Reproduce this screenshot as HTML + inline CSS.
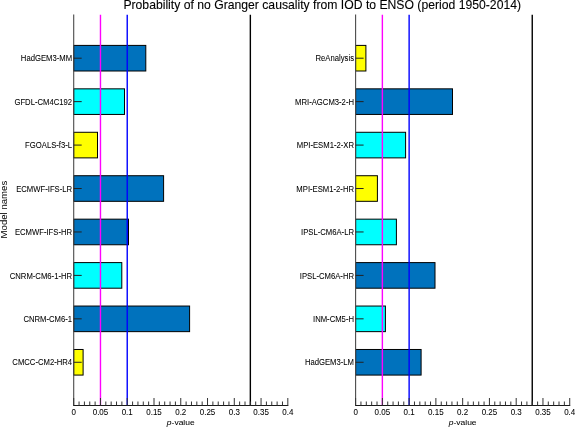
<!DOCTYPE html><html><head><meta charset="utf-8"><style>html,body{margin:0;padding:0;background:#fff;}svg{display:block;font-family:"Liberation Sans",sans-serif;will-change:transform;filter:blur(0.35px);}</style></head><body>
<svg width="575" height="427" viewBox="0 0 575 427">
<rect width="575" height="427" fill="#fff"/>
<text x="123.4" y="8.9" font-size="12.2" fill="#000" stroke="#000" stroke-width="0.1">Probability of no Granger causality from IOD to ENSO (period 1950-2014)</text>
<text transform="translate(7.1,209.6) rotate(-90)" text-anchor="middle" font-size="9.6" fill="#000">Model names</text>
<rect x="73.70" y="45.40" width="72.10" height="25.60" fill="#0072BD" stroke="#000" stroke-width="1"/>
<rect x="73.70" y="88.84" width="50.80" height="25.60" fill="#00FFFF" stroke="#000" stroke-width="1"/>
<rect x="73.70" y="132.28" width="23.80" height="25.60" fill="#FFFF00" stroke="#000" stroke-width="1"/>
<rect x="73.70" y="175.72" width="89.90" height="25.60" fill="#0072BD" stroke="#000" stroke-width="1"/>
<rect x="73.70" y="219.16" width="54.80" height="25.60" fill="#0072BD" stroke="#000" stroke-width="1"/>
<rect x="73.70" y="262.60" width="48.10" height="25.60" fill="#00FFFF" stroke="#000" stroke-width="1"/>
<rect x="73.70" y="306.04" width="115.90" height="25.60" fill="#0072BD" stroke="#000" stroke-width="1"/>
<rect x="73.70" y="349.48" width="9.40" height="25.60" fill="#FFFF00" stroke="#000" stroke-width="1"/>
<line x1="100.47" y1="14.80" x2="100.47" y2="405.50" stroke="#FF00FF" stroke-width="1.4"/>
<line x1="127.23" y1="14.80" x2="127.23" y2="405.50" stroke="#0000FF" stroke-width="1.4"/>
<line x1="250.35" y1="14.80" x2="250.35" y2="405.50" stroke="#000" stroke-width="1.4"/>
<line x1="73.70" y1="14.40" x2="73.70" y2="405.50" stroke="#4a4a4a" stroke-width="1.1"/>
<line x1="73.20" y1="405.50" x2="288.32" y2="405.50" stroke="#1a1a1a" stroke-width="1.1"/>
<line x1="73.70" y1="398.00" x2="73.70" y2="405.50" stroke="#333" stroke-width="1"/>
<text transform="translate(73.70,414.9) scale(1,1.1)" text-anchor="middle" font-size="8.0" fill="#000" stroke="#000" stroke-width="0.05">0</text>
<line x1="79.05" y1="401.50" x2="79.05" y2="405.50" stroke="#333" stroke-width="1"/>
<line x1="84.41" y1="401.50" x2="84.41" y2="405.50" stroke="#333" stroke-width="1"/>
<line x1="89.76" y1="401.50" x2="89.76" y2="405.50" stroke="#333" stroke-width="1"/>
<line x1="95.11" y1="401.50" x2="95.11" y2="405.50" stroke="#333" stroke-width="1"/>
<line x1="100.47" y1="398.00" x2="100.47" y2="405.50" stroke="#333" stroke-width="1"/>
<text transform="translate(100.47,414.9) scale(1,1.1)" text-anchor="middle" font-size="8.0" fill="#000" stroke="#000" stroke-width="0.05">0.05</text>
<line x1="105.82" y1="401.50" x2="105.82" y2="405.50" stroke="#333" stroke-width="1"/>
<line x1="111.17" y1="401.50" x2="111.17" y2="405.50" stroke="#333" stroke-width="1"/>
<line x1="116.52" y1="401.50" x2="116.52" y2="405.50" stroke="#333" stroke-width="1"/>
<line x1="121.88" y1="401.50" x2="121.88" y2="405.50" stroke="#333" stroke-width="1"/>
<line x1="127.23" y1="398.00" x2="127.23" y2="405.50" stroke="#333" stroke-width="1"/>
<text transform="translate(127.23,414.9) scale(1,1.1)" text-anchor="middle" font-size="8.0" fill="#000" stroke="#000" stroke-width="0.05">0.1</text>
<line x1="132.58" y1="401.50" x2="132.58" y2="405.50" stroke="#333" stroke-width="1"/>
<line x1="137.94" y1="401.50" x2="137.94" y2="405.50" stroke="#333" stroke-width="1"/>
<line x1="143.29" y1="401.50" x2="143.29" y2="405.50" stroke="#333" stroke-width="1"/>
<line x1="148.64" y1="401.50" x2="148.64" y2="405.50" stroke="#333" stroke-width="1"/>
<line x1="154.00" y1="398.00" x2="154.00" y2="405.50" stroke="#333" stroke-width="1"/>
<text transform="translate(154.00,414.9) scale(1,1.1)" text-anchor="middle" font-size="8.0" fill="#000" stroke="#000" stroke-width="0.05">0.15</text>
<line x1="159.35" y1="401.50" x2="159.35" y2="405.50" stroke="#333" stroke-width="1"/>
<line x1="164.70" y1="401.50" x2="164.70" y2="405.50" stroke="#333" stroke-width="1"/>
<line x1="170.05" y1="401.50" x2="170.05" y2="405.50" stroke="#333" stroke-width="1"/>
<line x1="175.41" y1="401.50" x2="175.41" y2="405.50" stroke="#333" stroke-width="1"/>
<line x1="180.76" y1="398.00" x2="180.76" y2="405.50" stroke="#333" stroke-width="1"/>
<text transform="translate(180.76,414.9) scale(1,1.1)" text-anchor="middle" font-size="8.0" fill="#000" stroke="#000" stroke-width="0.05">0.2</text>
<line x1="186.11" y1="401.50" x2="186.11" y2="405.50" stroke="#333" stroke-width="1"/>
<line x1="191.47" y1="401.50" x2="191.47" y2="405.50" stroke="#333" stroke-width="1"/>
<line x1="196.82" y1="401.50" x2="196.82" y2="405.50" stroke="#333" stroke-width="1"/>
<line x1="202.17" y1="401.50" x2="202.17" y2="405.50" stroke="#333" stroke-width="1"/>
<line x1="207.52" y1="398.00" x2="207.52" y2="405.50" stroke="#333" stroke-width="1"/>
<text transform="translate(207.52,414.9) scale(1,1.1)" text-anchor="middle" font-size="8.0" fill="#000" stroke="#000" stroke-width="0.05">0.25</text>
<line x1="212.88" y1="401.50" x2="212.88" y2="405.50" stroke="#333" stroke-width="1"/>
<line x1="218.23" y1="401.50" x2="218.23" y2="405.50" stroke="#333" stroke-width="1"/>
<line x1="223.58" y1="401.50" x2="223.58" y2="405.50" stroke="#333" stroke-width="1"/>
<line x1="228.94" y1="401.50" x2="228.94" y2="405.50" stroke="#333" stroke-width="1"/>
<line x1="234.29" y1="398.00" x2="234.29" y2="405.50" stroke="#333" stroke-width="1"/>
<text transform="translate(234.29,414.9) scale(1,1.1)" text-anchor="middle" font-size="8.0" fill="#000" stroke="#000" stroke-width="0.05">0.3</text>
<line x1="239.64" y1="401.50" x2="239.64" y2="405.50" stroke="#333" stroke-width="1"/>
<line x1="245.00" y1="401.50" x2="245.00" y2="405.50" stroke="#333" stroke-width="1"/>
<line x1="250.35" y1="401.50" x2="250.35" y2="405.50" stroke="#333" stroke-width="1"/>
<line x1="255.70" y1="401.50" x2="255.70" y2="405.50" stroke="#333" stroke-width="1"/>
<line x1="261.06" y1="398.00" x2="261.06" y2="405.50" stroke="#333" stroke-width="1"/>
<text transform="translate(261.06,414.9) scale(1,1.1)" text-anchor="middle" font-size="8.0" fill="#000" stroke="#000" stroke-width="0.05">0.35</text>
<line x1="266.41" y1="401.50" x2="266.41" y2="405.50" stroke="#333" stroke-width="1"/>
<line x1="271.76" y1="401.50" x2="271.76" y2="405.50" stroke="#333" stroke-width="1"/>
<line x1="277.11" y1="401.50" x2="277.11" y2="405.50" stroke="#333" stroke-width="1"/>
<line x1="282.47" y1="401.50" x2="282.47" y2="405.50" stroke="#333" stroke-width="1"/>
<line x1="287.82" y1="398.00" x2="287.82" y2="405.50" stroke="#333" stroke-width="1"/>
<text transform="translate(287.82,414.9) scale(1,1.1)" text-anchor="middle" font-size="8.0" fill="#000" stroke="#000" stroke-width="0.05">0.4</text>
<line x1="73.70" y1="58.20" x2="81.70" y2="58.20" stroke="#222" stroke-width="1"/>
<text transform="translate(72.10,61.40) scale(1,1.1)" text-anchor="end" font-size="7.7" fill="#000" stroke="#000" stroke-width="0.05">HadGEM3-MM</text>
<line x1="73.70" y1="101.64" x2="81.70" y2="101.64" stroke="#222" stroke-width="1"/>
<text transform="translate(72.10,104.84) scale(1,1.1)" text-anchor="end" font-size="7.7" fill="#000" stroke="#000" stroke-width="0.05">GFDL-CM4C192</text>
<line x1="73.70" y1="145.08" x2="81.70" y2="145.08" stroke="#222" stroke-width="1"/>
<text transform="translate(72.10,148.28) scale(1,1.1)" text-anchor="end" font-size="7.7" fill="#000" stroke="#000" stroke-width="0.05">FGOALS-f3-L</text>
<line x1="73.70" y1="188.52" x2="81.70" y2="188.52" stroke="#222" stroke-width="1"/>
<text transform="translate(72.10,191.72) scale(1,1.1)" text-anchor="end" font-size="7.7" fill="#000" stroke="#000" stroke-width="0.05">ECMWF-IFS-LR</text>
<line x1="73.70" y1="231.96" x2="81.70" y2="231.96" stroke="#222" stroke-width="1"/>
<text transform="translate(72.10,235.16) scale(1,1.1)" text-anchor="end" font-size="7.7" fill="#000" stroke="#000" stroke-width="0.05">ECMWF-IFS-HR</text>
<line x1="73.70" y1="275.40" x2="81.70" y2="275.40" stroke="#222" stroke-width="1"/>
<text transform="translate(72.10,278.60) scale(1,1.1)" text-anchor="end" font-size="7.7" fill="#000" stroke="#000" stroke-width="0.05">CNRM-CM6-1-HR</text>
<line x1="73.70" y1="318.84" x2="81.70" y2="318.84" stroke="#222" stroke-width="1"/>
<text transform="translate(72.10,322.04) scale(1,1.1)" text-anchor="end" font-size="7.7" fill="#000" stroke="#000" stroke-width="0.05">CNRM-CM6-1</text>
<line x1="73.70" y1="362.28" x2="81.70" y2="362.28" stroke="#222" stroke-width="1"/>
<text transform="translate(72.10,365.48) scale(1,1.1)" text-anchor="end" font-size="7.7" fill="#000" stroke="#000" stroke-width="0.05">CMCC-CM2-HR4</text>
<text transform="translate(180.76,425.2) scale(1,0.92)" text-anchor="middle" font-size="8.5" fill="#000" stroke="#000" stroke-width="0.05"><tspan font-style="italic">p</tspan>-value</text>
<rect x="355.60" y="45.40" width="10.30" height="25.60" fill="#FFFF00" stroke="#000" stroke-width="1"/>
<rect x="355.60" y="88.84" width="96.90" height="25.60" fill="#0072BD" stroke="#000" stroke-width="1"/>
<rect x="355.60" y="132.28" width="50.00" height="25.60" fill="#00FFFF" stroke="#000" stroke-width="1"/>
<rect x="355.60" y="175.72" width="21.80" height="25.60" fill="#FFFF00" stroke="#000" stroke-width="1"/>
<rect x="355.60" y="219.16" width="40.80" height="25.60" fill="#00FFFF" stroke="#000" stroke-width="1"/>
<rect x="355.60" y="262.60" width="79.40" height="25.60" fill="#0072BD" stroke="#000" stroke-width="1"/>
<rect x="355.60" y="306.04" width="29.80" height="25.60" fill="#00FFFF" stroke="#000" stroke-width="1"/>
<rect x="355.60" y="349.48" width="65.50" height="25.60" fill="#0072BD" stroke="#000" stroke-width="1"/>
<line x1="382.37" y1="14.80" x2="382.37" y2="405.50" stroke="#FF00FF" stroke-width="1.4"/>
<line x1="409.13" y1="14.80" x2="409.13" y2="405.50" stroke="#0000FF" stroke-width="1.4"/>
<line x1="532.25" y1="14.80" x2="532.25" y2="405.50" stroke="#000" stroke-width="1.4"/>
<line x1="355.60" y1="14.40" x2="355.60" y2="405.50" stroke="#4a4a4a" stroke-width="1.1"/>
<line x1="355.10" y1="405.50" x2="570.22" y2="405.50" stroke="#1a1a1a" stroke-width="1.1"/>
<line x1="355.60" y1="398.00" x2="355.60" y2="405.50" stroke="#333" stroke-width="1"/>
<text transform="translate(355.60,414.9) scale(1,1.1)" text-anchor="middle" font-size="8.0" fill="#000" stroke="#000" stroke-width="0.05">0</text>
<line x1="360.95" y1="401.50" x2="360.95" y2="405.50" stroke="#333" stroke-width="1"/>
<line x1="366.31" y1="401.50" x2="366.31" y2="405.50" stroke="#333" stroke-width="1"/>
<line x1="371.66" y1="401.50" x2="371.66" y2="405.50" stroke="#333" stroke-width="1"/>
<line x1="377.01" y1="401.50" x2="377.01" y2="405.50" stroke="#333" stroke-width="1"/>
<line x1="382.37" y1="398.00" x2="382.37" y2="405.50" stroke="#333" stroke-width="1"/>
<text transform="translate(382.37,414.9) scale(1,1.1)" text-anchor="middle" font-size="8.0" fill="#000" stroke="#000" stroke-width="0.05">0.05</text>
<line x1="387.72" y1="401.50" x2="387.72" y2="405.50" stroke="#333" stroke-width="1"/>
<line x1="393.07" y1="401.50" x2="393.07" y2="405.50" stroke="#333" stroke-width="1"/>
<line x1="398.42" y1="401.50" x2="398.42" y2="405.50" stroke="#333" stroke-width="1"/>
<line x1="403.78" y1="401.50" x2="403.78" y2="405.50" stroke="#333" stroke-width="1"/>
<line x1="409.13" y1="398.00" x2="409.13" y2="405.50" stroke="#333" stroke-width="1"/>
<text transform="translate(409.13,414.9) scale(1,1.1)" text-anchor="middle" font-size="8.0" fill="#000" stroke="#000" stroke-width="0.05">0.1</text>
<line x1="414.48" y1="401.50" x2="414.48" y2="405.50" stroke="#333" stroke-width="1"/>
<line x1="419.84" y1="401.50" x2="419.84" y2="405.50" stroke="#333" stroke-width="1"/>
<line x1="425.19" y1="401.50" x2="425.19" y2="405.50" stroke="#333" stroke-width="1"/>
<line x1="430.54" y1="401.50" x2="430.54" y2="405.50" stroke="#333" stroke-width="1"/>
<line x1="435.89" y1="398.00" x2="435.89" y2="405.50" stroke="#333" stroke-width="1"/>
<text transform="translate(435.89,414.9) scale(1,1.1)" text-anchor="middle" font-size="8.0" fill="#000" stroke="#000" stroke-width="0.05">0.15</text>
<line x1="441.25" y1="401.50" x2="441.25" y2="405.50" stroke="#333" stroke-width="1"/>
<line x1="446.60" y1="401.50" x2="446.60" y2="405.50" stroke="#333" stroke-width="1"/>
<line x1="451.95" y1="401.50" x2="451.95" y2="405.50" stroke="#333" stroke-width="1"/>
<line x1="457.31" y1="401.50" x2="457.31" y2="405.50" stroke="#333" stroke-width="1"/>
<line x1="462.66" y1="398.00" x2="462.66" y2="405.50" stroke="#333" stroke-width="1"/>
<text transform="translate(462.66,414.9) scale(1,1.1)" text-anchor="middle" font-size="8.0" fill="#000" stroke="#000" stroke-width="0.05">0.2</text>
<line x1="468.01" y1="401.50" x2="468.01" y2="405.50" stroke="#333" stroke-width="1"/>
<line x1="473.37" y1="401.50" x2="473.37" y2="405.50" stroke="#333" stroke-width="1"/>
<line x1="478.72" y1="401.50" x2="478.72" y2="405.50" stroke="#333" stroke-width="1"/>
<line x1="484.07" y1="401.50" x2="484.07" y2="405.50" stroke="#333" stroke-width="1"/>
<line x1="489.43" y1="398.00" x2="489.43" y2="405.50" stroke="#333" stroke-width="1"/>
<text transform="translate(489.43,414.9) scale(1,1.1)" text-anchor="middle" font-size="8.0" fill="#000" stroke="#000" stroke-width="0.05">0.25</text>
<line x1="494.78" y1="401.50" x2="494.78" y2="405.50" stroke="#333" stroke-width="1"/>
<line x1="500.13" y1="401.50" x2="500.13" y2="405.50" stroke="#333" stroke-width="1"/>
<line x1="505.48" y1="401.50" x2="505.48" y2="405.50" stroke="#333" stroke-width="1"/>
<line x1="510.84" y1="401.50" x2="510.84" y2="405.50" stroke="#333" stroke-width="1"/>
<line x1="516.19" y1="398.00" x2="516.19" y2="405.50" stroke="#333" stroke-width="1"/>
<text transform="translate(516.19,414.9) scale(1,1.1)" text-anchor="middle" font-size="8.0" fill="#000" stroke="#000" stroke-width="0.05">0.3</text>
<line x1="521.54" y1="401.50" x2="521.54" y2="405.50" stroke="#333" stroke-width="1"/>
<line x1="526.90" y1="401.50" x2="526.90" y2="405.50" stroke="#333" stroke-width="1"/>
<line x1="532.25" y1="401.50" x2="532.25" y2="405.50" stroke="#333" stroke-width="1"/>
<line x1="537.60" y1="401.50" x2="537.60" y2="405.50" stroke="#333" stroke-width="1"/>
<line x1="542.96" y1="398.00" x2="542.96" y2="405.50" stroke="#333" stroke-width="1"/>
<text transform="translate(542.96,414.9) scale(1,1.1)" text-anchor="middle" font-size="8.0" fill="#000" stroke="#000" stroke-width="0.05">0.35</text>
<line x1="548.31" y1="401.50" x2="548.31" y2="405.50" stroke="#333" stroke-width="1"/>
<line x1="553.66" y1="401.50" x2="553.66" y2="405.50" stroke="#333" stroke-width="1"/>
<line x1="559.01" y1="401.50" x2="559.01" y2="405.50" stroke="#333" stroke-width="1"/>
<line x1="564.37" y1="401.50" x2="564.37" y2="405.50" stroke="#333" stroke-width="1"/>
<line x1="569.72" y1="398.00" x2="569.72" y2="405.50" stroke="#333" stroke-width="1"/>
<text transform="translate(569.72,414.9) scale(1,1.1)" text-anchor="middle" font-size="8.0" fill="#000" stroke="#000" stroke-width="0.05">0.4</text>
<line x1="355.60" y1="58.20" x2="363.60" y2="58.20" stroke="#222" stroke-width="1"/>
<text transform="translate(354.00,61.40) scale(1,1.1)" text-anchor="end" font-size="7.7" fill="#000" stroke="#000" stroke-width="0.05">ReAnalysis</text>
<line x1="355.60" y1="101.64" x2="363.60" y2="101.64" stroke="#222" stroke-width="1"/>
<text transform="translate(354.00,104.84) scale(1,1.1)" text-anchor="end" font-size="7.7" fill="#000" stroke="#000" stroke-width="0.05">MRI-AGCM3-2-H</text>
<line x1="355.60" y1="145.08" x2="363.60" y2="145.08" stroke="#222" stroke-width="1"/>
<text transform="translate(354.00,148.28) scale(1,1.1)" text-anchor="end" font-size="7.7" fill="#000" stroke="#000" stroke-width="0.05">MPI-ESM1-2-XR</text>
<line x1="355.60" y1="188.52" x2="363.60" y2="188.52" stroke="#222" stroke-width="1"/>
<text transform="translate(354.00,191.72) scale(1,1.1)" text-anchor="end" font-size="7.7" fill="#000" stroke="#000" stroke-width="0.05">MPI-ESM1-2-HR</text>
<line x1="355.60" y1="231.96" x2="363.60" y2="231.96" stroke="#222" stroke-width="1"/>
<text transform="translate(354.00,235.16) scale(1,1.1)" text-anchor="end" font-size="7.7" fill="#000" stroke="#000" stroke-width="0.05">IPSL-CM6A-LR</text>
<line x1="355.60" y1="275.40" x2="363.60" y2="275.40" stroke="#222" stroke-width="1"/>
<text transform="translate(354.00,278.60) scale(1,1.1)" text-anchor="end" font-size="7.7" fill="#000" stroke="#000" stroke-width="0.05">IPSL-CM6A-HR</text>
<line x1="355.60" y1="318.84" x2="363.60" y2="318.84" stroke="#222" stroke-width="1"/>
<text transform="translate(354.00,322.04) scale(1,1.1)" text-anchor="end" font-size="7.7" fill="#000" stroke="#000" stroke-width="0.05">INM-CM5-H</text>
<line x1="355.60" y1="362.28" x2="363.60" y2="362.28" stroke="#222" stroke-width="1"/>
<text transform="translate(354.00,365.48) scale(1,1.1)" text-anchor="end" font-size="7.7" fill="#000" stroke="#000" stroke-width="0.05">HadGEM3-LM</text>
<text transform="translate(462.66,425.2) scale(1,0.92)" text-anchor="middle" font-size="8.5" fill="#000" stroke="#000" stroke-width="0.05"><tspan font-style="italic">p</tspan>-value</text>
</svg></body></html>
